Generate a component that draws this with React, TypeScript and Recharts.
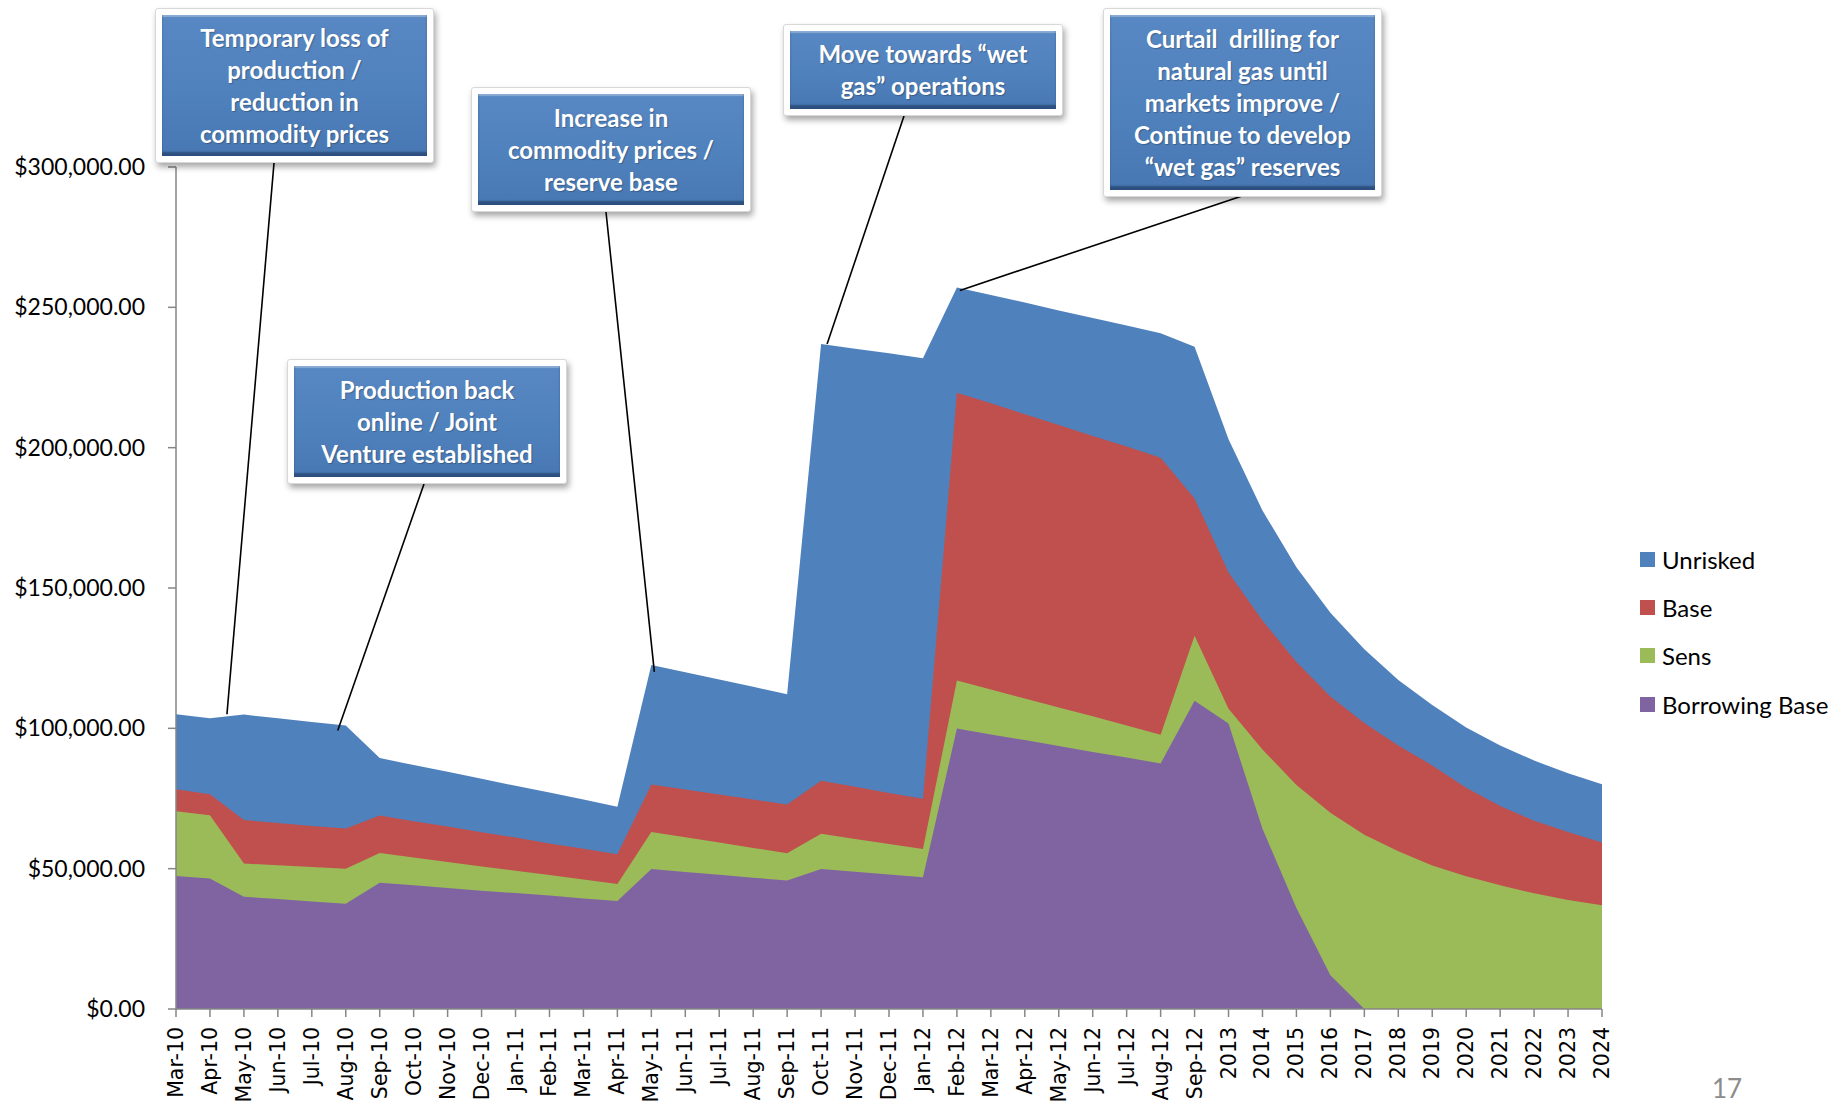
import React from "react"
import { AreaChart, Area, XAxis, YAxis, ReferenceDot } from "recharts"

const periods = [
  "Mar-10", "Apr-10", "May-10", "Jun-10", "Jul-10", "Aug-10", "Sep-10", "Oct-10", "Nov-10", "Dec-10",
  "Jan-11", "Feb-11", "Mar-11", "Apr-11", "May-11", "Jun-11", "Jul-11", "Aug-11", "Sep-11", "Oct-11", "Nov-11", "Dec-11",
  "Jan-12", "Feb-12", "Mar-12", "Apr-12", "May-12", "Jun-12", "Jul-12", "Aug-12", "Sep-12",
  "2013", "2014", "2015", "2016", "2017", "2018", "2019", "2020", "2021", "2022", "2023", "2024",
]

const unrisked = [
  105000, 103600, 104900, 103600, 102300, 101000, 89400, 86900, 84500, 82000,
  79500, 77100, 74600, 72100, 122600, 120000, 117400, 114800, 112100, 236900, 235200, 233600,
  231900, 257100, 254400, 251700, 248900, 246200, 243500, 240800, 236000,
  203000, 177600, 157400, 141200, 128200, 117200, 108300, 100300, 93900, 88500, 84000, 80100,
]

const base = [
  78300, 76500, 67300, 66300, 65200, 64300, 68900, 66900, 65000, 63000,
  61100, 59000, 57100, 55100, 80000, 78200, 76400, 74600, 72900, 81300, 79200, 77000,
  74900, 219600, 215800, 211900, 208100, 204200, 200400, 196400, 181900,
  155500, 138400, 123600, 111300, 101900, 93900, 86800, 78800, 72300, 67100, 63100, 59300,
]

const sens = [
  70500, 69000, 51800, 51200, 50600, 50000, 55600, 54000, 52400, 50800,
  49300, 47700, 46100, 44500, 63100, 61200, 59300, 57400, 55500, 62400, 60600, 58800,
  57000, 117000, 113800, 110600, 107400, 104300, 101000, 97700, 133000,
  107000, 92500, 79800, 69900, 62100, 56200, 51100, 47300, 44100, 41200, 38800, 37000,
]

const borrowingBase = [
  47400, 46500, 40000, 39200, 38300, 37500, 45000, 44100, 43100, 42100,
  41300, 40400, 39400, 38500, 49900, 48800, 47800, 46800, 45800, 49900, 48900, 47900,
  46900, 99900, 97800, 95800, 93700, 91600, 89600, 87500, 109800,
  101700, 64200, 36000, 12000, 0, 0, 0, 0, 0, 0, 0, 0,
]

const yTicks = [0, 50000, 100000, 150000, 200000, 250000, 300000]

const series = [
  { key: "unrisked", name: "Unrisked", color: "#4F81BD" },
  { key: "base", name: "Base", color: "#C0504D" },
  { key: "sens", name: "Sens", color: "#9BBB59" },
  { key: "borrowingBase", name: "Borrowing Base", color: "#8064A2" },
]

const rows = periods.map((period, i) => ({
  period,
  unrisked: unrisked[i],
  base: base[i],
  sens: sens[i],
  borrowingBase: borrowingBase[i],
}))

// call-out boxes: box geometry in page pixels, leader line runs from `from`
// to the top of the Unrisked area at period `at` (nudged by dx/dy)
const callouts = [
  { lines: ["Temporary loss of", "production /", "reduction in", "commodity prices"], left: 155, top: 8, width: 279, height: 155, from: [274, 163], at: "Apr-10", dx: 17, dy: -4 },
  { lines: ["Increase in", "commodity prices /", "reserve base"], left: 471, top: 87, width: 280, height: 125, from: [606, 212], at: "May-11", dx: 3, dy: 7 },
  { lines: ["Production back", "online / Joint", "Venture established"], left: 287, top: 359, width: 280, height: 125, from: [424, 484], at: "Aug-10", dx: -8, dy: 5 },
  { lines: ["Move towards \u201cwet", "gas\u201d operations"], left: 783, top: 24, width: 280, height: 92, from: [904, 116], at: "Oct-11", dx: 6, dy: 0 },
  { lines: ["Curtail  drilling for", "natural gas until", "markets improve /", "Continue to develop", "\u201cwet gas\u201d reserves"], left: 1103, top: 8, width: 279, height: 189, from: [1242, 196], at: "Feb-12", dx: 3, dy: 3 },
]

const axisGray = "#868686"
const bodyFont = "Lato, 'Open Sans', sans-serif"

const money = (v: number) =>
  "$" + v.toLocaleString("en-US", { minimumFractionDigits: 2, maximumFractionDigits: 2 })

function PeriodTick({ x, y, payload }: any) {
  return (
    <text
      x={x}
      y={y}
      transform={`rotate(-90 ${x} ${y})`}
      textAnchor="end"
      dominantBaseline="central"
      fontFamily="'DejaVu Sans', Verdana, sans-serif"
      fontSize={20.5}
      fill="#000"
    >
      {payload.value}
    </text>
  )
}

function CalloutBox({ c }: { c: (typeof callouts)[number] }) {
  return (
    <div
      style={{
        position: "absolute",
        left: c.left,
        top: c.top,
        width: c.width,
        height: c.height,
        boxSizing: "border-box",
        padding: 6,
        background: "#fff",
        border: "1px solid #d8d8d8",
        borderRadius: 3,
        boxShadow: "2px 4px 6px rgba(0,0,0,0.35)",
      }}
    >
      <div
        style={{
          width: "100%",
          height: "100%",
          display: "flex",
          flexDirection: "column",
          justifyContent: "center",
          alignItems: "center",
          background: "linear-gradient(to bottom, #5888c3 0%, #4f81bd 55%, #4878b3 100%)",
          boxShadow: "inset 0 -4px 2px rgba(35,65,110,0.75), inset 0 2px 1px rgba(255,255,255,0.3)",
          color: "#fff",
          fontFamily: bodyFont,
          fontWeight: 700,
          fontSize: 24,
          lineHeight: "32px",
          textShadow: "1px 1px 1px rgba(0,0,0,0.25)",
          whiteSpace: "pre",
        }}
      >
        {c.lines.map((l) => (
          <div key={l}>{l}</div>
        ))}
      </div>
    </div>
  )
}

export default function App() {
  return (
    <div style={{ position: "absolute", left: 0, top: 0, width: 1837, height: 1108, background: "#fff", overflow: "hidden" }}>
      <AreaChart width={1837} height={1108} data={rows} margin={{ top: 167, right: 235, bottom: 0, left: 0 }}>
        <XAxis
          dataKey="period"
          interval={0}
          height={99}
          stroke={axisGray}
          strokeWidth={1.5}
          tickSize={8}
          tickMargin={10}
          tick={<PeriodTick />}
        />
        <YAxis
          width={176}
          domain={[0, 300000]}
          ticks={yTicks}
          stroke={axisGray}
          strokeWidth={1.5}
          tickSize={8}
          tickMargin={23}
          tickFormatter={money}
          tick={{ fontFamily: bodyFont, fontSize: 23, fill: "#000" }}
        />
        {series.map((s) => (
          <Area
            key={s.key}
            type="linear"
            dataKey={s.key}
            name={s.name}
            stroke="none"
            fill={s.color}
            fillOpacity={1}
            dot={false}
            activeDot={false}
            isAnimationActive={false}
          />
        ))}
        {callouts.map((c) => (
          <ReferenceDot
            key={c.at}
            x={c.at}
            y={unrisked[periods.indexOf(c.at)]}
            r={0}
            ifOverflow="visible"
            shape={(p: any) => (
              <line x1={c.from[0]} y1={c.from[1]} x2={p.cx + c.dx} y2={p.cy + c.dy} stroke="#000" strokeWidth={1.6} />
            )}
          />
        ))}
      </AreaChart>

      {callouts.map((c) => (
        <CalloutBox key={c.at} c={c} />
      ))}

      <div style={{ position: "absolute", left: 1640, top: 535, fontFamily: bodyFont, fontSize: 24, color: "#000" }}>
        {series.map((s) => (
          <div key={s.key} style={{ display: "flex", alignItems: "center", height: 48.4 }}>
            <span style={{ width: 15, height: 15, background: s.color, marginRight: 7 }} />
            <span>{s.name}</span>
          </div>
        ))}
      </div>

      <div style={{ position: "absolute", left: 1712, top: 1072, fontFamily: bodyFont, fontSize: 26, lineHeight: "32px", color: "#8c8c8c" }}>17</div>
    </div>
  )
}
